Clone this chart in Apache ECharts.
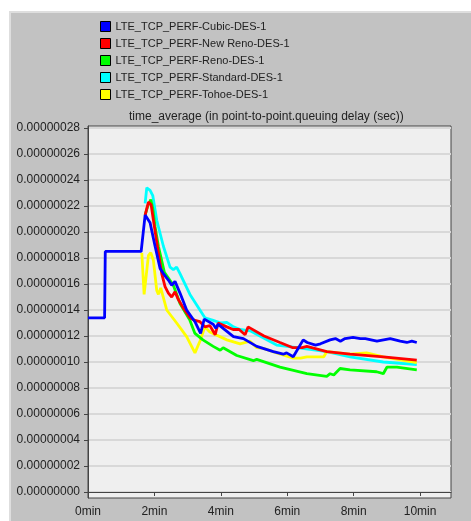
<!DOCTYPE html>
<html>
<head>
<meta charset="utf-8">
<script src="https://cdn.jsdelivr.net/npm/echarts@6/dist/echarts.min.js"></script>
<style>
  html, body { margin: 0; padding: 0; background: #fff; }
  #chart { width: 471px; height: 521px; }
</style>
</head>
<body>
<div id="chart"></div>
<script>
// values are in units of 1e-8 sec, x in minutes
const SCALE = 1e-8;
const seriesNames = [
    'LTE_TCP_PERF-Cubic-DES-1',
    'LTE_TCP_PERF-New Reno-DES-1',
    'LTE_TCP_PERF-Reno-DES-1',
    'LTE_TCP_PERF-Standard-DES-1',
    'LTE_TCP_PERF-Tohoe-DES-1'
];
const seriesColors = ['#0000ff', '#ff0000', '#00ff00', '#00ffff', '#ffff00'];

const cubic = [
    [0, 13.4], [0.5, 13.4], [0.52, 18.5], [1.6, 18.5], [1.72, 21.3], [1.87, 20.7], [2.02, 18.9],
    [2.17, 17.2], [2.27, 16.8], [2.42, 16.3], [2.52, 15.9], [2.62, 16.2], [2.77, 15.3], [2.97, 14.0],
    [3.22, 13.1], [3.39, 12.2], [3.5, 13.3], [3.77, 12.9], [3.85, 12.6], [3.92, 12.9], [4.38, 11.95],
    [4.68, 11.8], [5.08, 11.2], [5.58, 10.8], [5.88, 10.6], [5.98, 10.7], [6.18, 10.4], [6.48, 11.7],
    [6.6, 11.5], [6.85, 11.3], [7.0, 11.4], [7.29, 11.7], [7.45, 11.8], [7.6, 11.6], [7.74, 11.8],
    [7.98, 11.9], [8.2, 11.8], [8.35, 11.8], [8.7, 11.6], [9.1, 11.8], [9.4, 11.6], [9.6, 11.5],
    [9.75, 11.6], [9.9, 11.5]
];
const newReno = [
    [1.72, 21.3], [1.82, 22.3], [1.9, 22.1], [1.97, 20.9], [2.12, 18.4], [2.22, 16.8], [2.32, 15.8],
    [2.42, 15.3], [2.52, 15.0], [2.62, 15.4], [2.72, 14.8], [2.86, 14.2], [3.07, 13.4], [3.22, 13.2],
    [3.37, 13.1], [3.52, 12.7], [3.67, 12.8], [3.83, 12.1], [3.92, 13.0], [4.18, 12.7], [4.37, 12.5],
    [4.55, 12.5], [4.73, 12.1], [4.82, 12.7], [5.3, 12.0], [5.78, 11.5], [6.17, 11.1], [6.45, 11.1],
    [6.59, 11.2], [7.19, 10.8], [7.89, 10.6], [8.89, 10.4], [9.9, 10.15]
];
const reno = [
    [1.72, 21.3], [1.8, 22.0], [1.89, 22.5], [1.95, 21.8], [2.02, 20.4], [2.12, 18.9], [2.3, 16.9],
    [2.57, 15.9], [2.77, 14.5], [3.07, 13.2], [3.22, 12.2], [3.46, 11.7], [3.77, 11.2], [3.98, 10.9],
    [4.07, 11.1], [4.48, 10.5], [4.98, 10.1], [5.08, 10.2], [5.78, 9.6], [6.59, 9.1], [7.19, 8.9],
    [7.29, 9.1], [7.4, 9.0], [7.59, 9.5], [7.89, 9.4], [8.69, 9.25], [8.89, 9.1], [9.0, 9.6],
    [9.3, 9.6], [9.9, 9.4]
];
const standard = [
    [1.72, 22.2], [1.77, 23.4], [1.87, 23.2], [1.95, 22.8], [2.07, 20.9], [2.27, 18.9], [2.47, 17.3],
    [2.57, 17.1], [2.67, 17.3], [2.77, 16.8], [3.07, 15.2], [3.37, 14.0], [3.52, 13.4], [3.77, 13.2],
    [4.0, 13.0], [4.18, 13.05], [4.38, 12.7], [4.58, 12.5], [4.88, 12.4], [5.68, 11.3], [6.0, 11.2],
    [7.19, 10.8], [7.89, 10.4], [8.89, 10.0], [9.9, 9.8]
];
const tohoe = [
    [1.62, 18.4], [1.69, 15.2], [1.82, 18.2], [1.89, 18.4], [1.97, 17.8], [2.07, 15.5], [2.12, 15.2],
    [2.19, 15.7], [2.37, 14.0], [2.67, 13.0], [2.97, 11.95], [3.22, 10.7], [3.37, 11.6], [3.52, 12.7],
    [3.67, 12.3], [4.18, 11.7], [4.58, 11.4], [4.88, 11.6], [5.08, 11.1], [5.28, 11.05], [5.68, 10.7],
    [6.18, 10.3], [6.4, 10.3], [6.59, 10.4], [6.9, 10.4], [7.1, 10.4], [7.19, 10.8], [7.89, 10.6],
    [8.39, 10.7], [8.89, 10.4], [9.9, 9.95]
];
const seriesData = [cubic, newReno, reno, standard, tohoe];
const seriesZ = [6, 5, 4, 2, 3];

const yTicks = [0, 2, 4, 6, 8, 10, 12, 14, 16, 18, 20, 22, 24, 26, 28];
const xTicks = [0, 2, 4, 6, 8, 10];

const chart = echarts.init(document.getElementById('chart'));
const font = 'Liberation Sans, Arial, sans-serif';

const option = {
    backgroundColor: '#ffffff',
    animation: false,
    graphic: [
        {
            type: 'rect',
            z: -10,
            shape: { x: 10, y: 12, width: 470, height: 520 },
            style: { fill: '#c2c2c2', stroke: '#dedede', lineWidth: 2 }
        }
    ],
    title: {
        text: 'time_average (in point-to-point.queuing delay (sec))',
        left: 129,
        top: 111,
        padding: 0,
        textStyle: { fontFamily: font, fontSize: 12, fontWeight: 'normal', color: '#222' }
    },
    legend: {
        orient: 'vertical',
        left: 100,
        top: 21,
        padding: 0,
        itemWidth: 10,
        itemHeight: 10,
        itemGap: 6,
        icon: 'rect',
        itemStyle: { borderColor: '#000', borderWidth: 1 },
        textStyle: { fontFamily: font, fontSize: 11, color: '#222' },
        data: seriesNames
    },
    grid: {
        left: 88,
        top: 126,
        right: 20,
        bottom: 23,
        show: true,
        backgroundColor: '#efefef',
        borderColor: '#444',
        borderWidth: 1
    },
    xAxis: {
        type: 'value',
        min: 0,
        max: 10.93,
        axisLine: { show: true, lineStyle: { color: '#444' } },
        axisTick: { show: true, length: 4, customValues: xTicks, lineStyle: { color: '#444' } },
        axisLabel: {
            customValues: xTicks,
            formatter: v => v + 'min',
            margin: 8,
            fontFamily: font, fontSize: 12, color: '#222'
        },
        splitLine: { show: false }
    },
    yAxis: {
        type: 'value',
        min: -0.46 * SCALE,
        max: 28.15 * SCALE,
        axisLine: { show: true, lineStyle: { color: '#444' } },
        axisTick: { show: true, length: 4, customValues: yTicks.map(v => v * SCALE), lineStyle: { color: '#444' } },
        axisLabel: {
            customValues: yTicks.map(v => v * SCALE),
            formatter: v => v.toFixed(8),
            margin: 8,
            fontFamily: font, fontSize: 12, color: '#222'
        },
        splitLine: { show: true, lineStyle: { color: '#d8d8d8', width: 2 } }
    },
    series: seriesNames.map((name, i) => ({
        name: name,
        type: 'line',
        z: seriesZ[i],
        showSymbol: false,
        symbol: 'none',
        color: seriesColors[i],
        lineStyle: { width: 2.8, color: seriesColors[i] },
        data: seriesData[i].map(p => [p[0], p[1] * SCALE])
    }))
};

chart.setOption(option);
</script>
</body>
</html>
